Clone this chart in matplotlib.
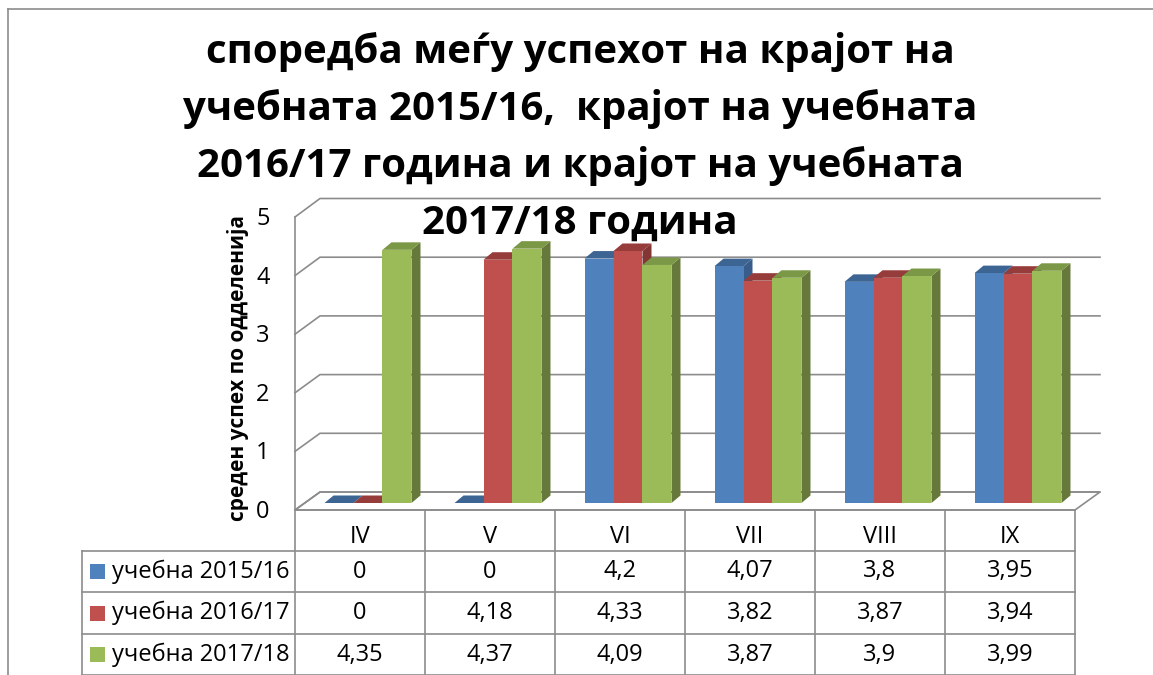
import matplotlib.pyplot as plt
from matplotlib.patches import Polygon, Rectangle

plt.rcParams['font.family'] = ['Open Sans', 'DejaVu Sans']

title_lines = ["споредба меѓу успехот на крајот на",
               "учебната 2015/16,  крајот на учебната",
               "2016/17 година и крајот на учебната",
               "2017/18 година"]
y_label = "среден успех по одделенија"
grades = ["IV", "V", "VI", "VII", "VIII", "IX"]
series = ["учебна 2015/16", "учебна 2016/17", "учебна 2017/18"]
y2015 = [0, 0, 4.2, 4.07, 3.8, 3.95]
y2016 = [0, 4.18, 4.33, 3.82, 3.87, 3.94]
y2017 = [4.35, 4.37, 4.09, 3.87, 3.9, 3.99]
y_ticks = [0, 1, 2, 3, 4, 5]

front_col = ['#4F81BD', '#C0504D', '#9BBB59']
top_col = ['#3D6593', '#963C3A', '#7B9846']
side_col = ['#385D8A', '#833634', '#66793A']
grid_col = '#8C8C8C'

W, H = 1153, 675
fig = plt.figure(figsize=(W / 100, H / 100), dpi=100)


def box(l, t, r, b):
    return [l / W, 1 - b / H, (r - l) / W, (b - t) / H]


# pixel overlay for frame, walls, table and texts
pix = fig.add_axes([0, 0, 1, 1])
pix.set_xlim(0, W)
pix.set_ylim(H, 0)
pix.axis('off')

lw = 1.2
pix.plot([8, W], [9, 9], color=grid_col, lw=lw)
pix.plot([8, 8], [9, H], color=grid_col, lw=lw)

# 3d walls: front edge x=295, back edge x=320, depth shift (25, -18)
x_front, x_back, x_right = 295, 320, 1100
def front_y(v):
    return 510 - 58.6 * v
def back_y(v):
    return 492 - 58.7 * v

pix.add_patch(Polygon([(x_front, front_y(0)), (x_back, back_y(0)),
                       (x_right, back_y(0)), (x_right - 25, front_y(0))],
                      closed=True, fc='white', ec=grid_col, lw=lw, zorder=1))
for v in y_ticks:
    pix.plot([x_front, x_back, x_right], [front_y(v), back_y(v), back_y(v)],
             color=grid_col, lw=lw, zorder=1)
    pix.text(263, front_y(v) + 2, str(v), ha='center', va='center', fontsize=17)
pix.plot([x_front, x_front], [front_y(0), front_y(5)], color=grid_col, lw=lw, zorder=1)

pix.text(238, 368, y_label, rotation=90, ha='center', va='center',
         fontsize=15, fontweight='bold')

for k, line in enumerate(title_lines):
    pix.text(580, 63 + 57 * k, line, ha='center', va='baseline',
             fontsize=29, fontweight='bold', zorder=5)

# bars (front plane of the clustered 3d columns)
ax = fig.add_axes(box(303, 503 - 58.2 * 5, 1083, 503))
ax.set_xlim(0, len(grades))
ax.set_ylim(0, 5)
ax.axis('off')
ax.patch.set_alpha(0)

bw = 0.223
dx = 9 / 130
dy = 7.5 / 58.2
for i in range(len(grades)):
    for j, vals in enumerate([y2015, y2016, y2017]):
        h = vals[i]
        x0 = i + 0.5 - 1.5 * bw + j * bw
        x1 = x0 + bw
        ax.add_patch(Polygon([(x1, 0), (x1 + dx, dy), (x1 + dx, h + dy), (x1, h)],
                             closed=True, fc=side_col[j], ec='none'))
        ax.add_patch(Polygon([(x0, h), (x0 + dx, h + dy), (x1 + dx, h + dy), (x1, h)],
                             closed=True, fc=top_col[j], ec='none'))
        if h > 0:
            ax.add_patch(Rectangle((x0, 0), bw, h, fc=front_col[j], ec='none'))

# data table
col_l, col_w = 295, 130
rows = [510, 551, 592, 634, 675]
tab_l = 82
tab_r = col_l + col_w * len(grades)
pix.plot([col_l, tab_r], [rows[0], rows[0]], color=grid_col, lw=lw)
for r in rows[1:]:
    pix.plot([tab_l, tab_r], [r, r], color=grid_col, lw=lw)
pix.plot([tab_l, tab_l], [rows[1], H], color=grid_col, lw=lw)
for i in range(len(grades) + 1):
    pix.plot([col_l + col_w * i] * 2, [rows[0], H], color=grid_col, lw=lw)

for i, g in enumerate(grades):
    pix.text(col_l + col_w * (i + 0.5), 537, g, ha='center', va='center', fontsize=17)

for j, (name, vals) in enumerate(zip(series, [y2015, y2016, y2017])):
    yc = (rows[j + 1] + rows[j + 2]) / 2
    pix.add_patch(Rectangle((90, yc - 7.5), 15, 15, fc=front_col[j], ec='none'))
    pix.text(112, yc, name, ha='left', va='center', fontsize=17)
    for i, v in enumerate(vals):
        pix.text(col_l + col_w * (i + 0.5), yc, f"{v:g}".replace('.', ','),
                 ha='center', va='center', fontsize=17)

fig.savefig('out.png', dpi=100)
